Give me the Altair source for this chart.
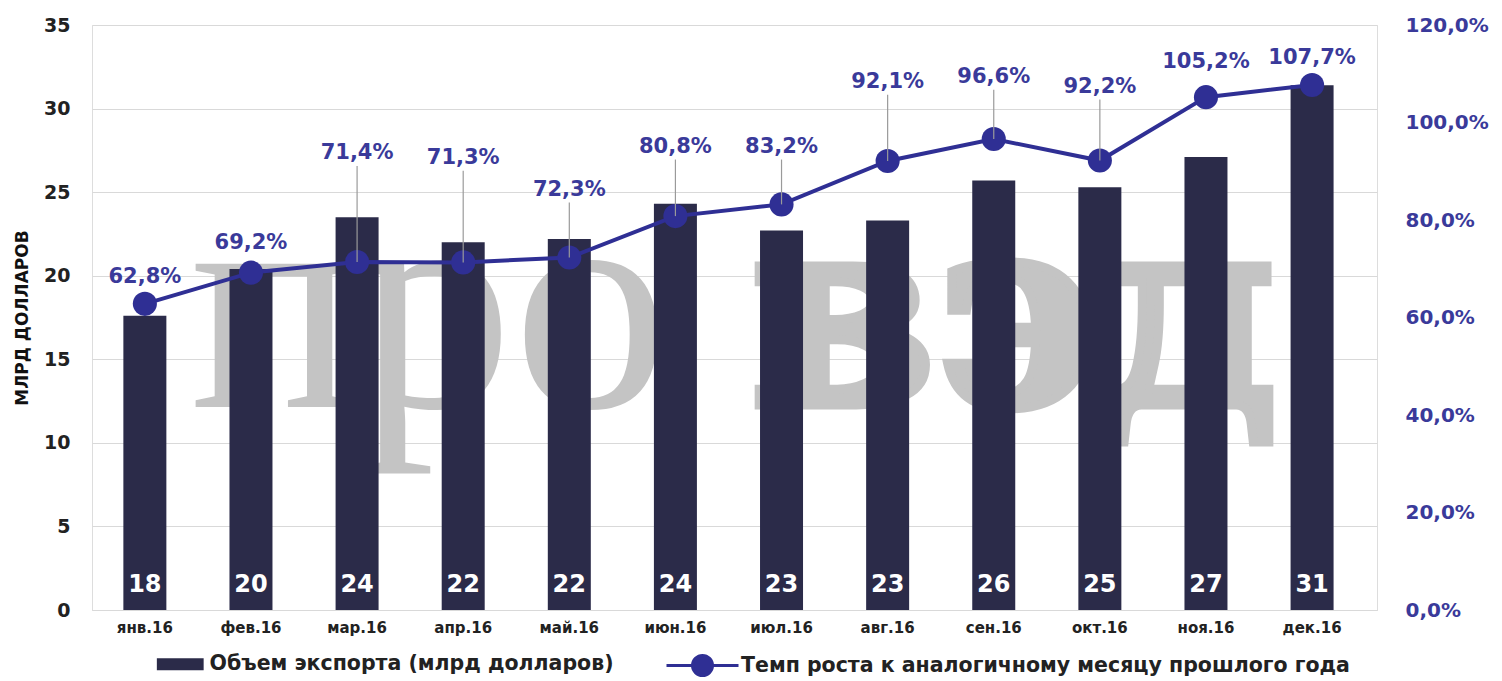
import altair as alt
import pandas as pd

months = ["янв.16", "фев.16", "мар.16", "апр.16", "май.16", "июн.16",
          "июл.16", "авг.16", "сен.16", "окт.16", "ноя.16", "дек.16"]
export_bn = [17.6, 20.4, 23.5, 22.0, 22.2, 24.3, 22.7, 23.3, 25.7, 25.3, 27.1, 31.4]
growth_pct = [62.8, 69.2, 71.4, 71.3, 72.3, 80.8, 83.2, 92.1, 96.6, 92.2, 105.2, 107.7]
label_at_pct = [68.3, 75.3, 93.7, 92.7, 86.2, 95.0, 95.0, 108.3, 109.3, 107.3, 112.4, 113.2]
has_leader = [False, False, True, True, True, True, True, True, True, True, False, False]

BAR_NAME = "Объем экспорта (млрд долларов)"
LINE_NAME = "Темп роста к аналогичному месяцу прошлого года"

df = pd.DataFrame({
    "month": months,
    "export": export_bn,
    "growth": growth_pct,
    "label_at": label_at_pct,
    "leader": has_leader,
    "bar_series": BAR_NAME,
    "line_series": LINE_NAME,
})

BAR_COLOR = "#2b2b49"
LINE_COLOR = "#2f2f94"
LABEL_BLUE = "#3a3a9a"
FONT = "DejaVu Sans"
WM_COLOR = "#c4c4c4"

x_scale = alt.Scale(paddingInner=0.6, paddingOuter=0.355, align=0.42)
x_enc = alt.X("month:N", sort=months, title=None, scale=x_scale,
              axis=alt.Axis(labelFontSize=15, labelFontWeight="bold", labelColor="#222",
                            labelFont=FONT, labelAngle=0, ticks=False, domain=True,
                            domainColor="#d9d9d9", labelPadding=10))

y_left = alt.Y("export:Q", title="МЛРД ДОЛЛАРОВ",
               scale=alt.Scale(domain=[0, 35]),
               axis=alt.Axis(values=list(range(0, 36, 5)), labelFontSize=19,
                             labelFontWeight="bold", labelColor="#222", labelFont=FONT,
                             ticks=False, domain=False, gridColor="#d9d9d9", labelPadding=22,
                             titleFontSize=17, titleFontWeight="bold", titleColor="#111",
                             titleFont=FONT, titlePadding=12))

base = alt.Chart(df)

one = base.transform_filter("datum.month == 'янв.16'")
watermark1 = one.mark_text(
    text="про", font="Liberation Serif", fontSize=312, color=WM_COLOR,
    align="left", baseline="alphabetic").encode(x=alt.value(98), y=alt.value(382))
watermark2 = one.mark_text(
    text="вэд", font="DejaVu Serif", fontWeight="bold", fontSize=268, color=WM_COLOR,
    stroke=WM_COLOR, strokeWidth=9, strokeJoin="miter",
    align="left", baseline="alphabetic").encode(x=alt.value(658), y=alt.value(380))

bars = base.mark_bar(size=43).encode(
    x=x_enc,
    y=y_left,
    color=alt.Color("bar_series:N", title=None,
                    scale=alt.Scale(domain=[BAR_NAME], range=[BAR_COLOR]),
                    legend=alt.Legend(orient="none", legendX=78, legendY=629,
                                      symbolType="M-3.9,-1H3.9V1H-3.9Z",
                                      symbolSize=144, labelOffset=19, labelFontSize=20.5,
                                      labelFontWeight="bold", labelColor="#222",
                                      labelFont=FONT, labelLimit=800, symbolOpacity=1)),
)

bar_text = base.transform_calculate(
    lbl="format(datum.export, '.0f')"
).mark_text(color="white", fontSize=24, fontWeight="bold", font=FONT, dy=-25,
            baseline="middle").encode(
    x=alt.X("month:N", sort=months, scale=x_scale),
    y=alt.datum(0),
    text="lbl:N",
)

left = alt.layer(watermark1, watermark2, bars, bar_text)

y_right_scale = alt.Scale(domain=[0, 120])
y_right = alt.Y("growth:Q", title=None, scale=y_right_scale,
                axis=alt.Axis(orient="right", values=list(range(0, 121, 20)),
                              labelExpr="replace(format(datum.value, '.1f'), '.', ',') + '%'",
                              labelFontSize=20, labelFontWeight="bold", labelColor=LABEL_BLUE,
                              labelFont=FONT, ticks=False, domain=False, grid=False,
                              labelPadding=28))

line = base.mark_line(strokeWidth=4).encode(
    x=alt.X("month:N", sort=months, scale=x_scale),
    y=y_right,
    stroke=alt.Stroke("line_series:N", title=None,
                      scale=alt.Scale(domain=[LINE_NAME], range=[LINE_COLOR]),
                      legend=alt.Legend(orient="none", legendX=599, legendY=629,
                                        symbolType="M-3.6,0H3.6M-1,0A1,1,0,1,1,1,0A1,1,0,1,1,-1,0Z",
                                        symbolSize=400, symbolStrokeWidth=3,
                                        symbolFillColor=LINE_COLOR, labelOffset=27,
                                        labelFontSize=20.5, labelFontWeight="bold",
                                        labelColor="#222", labelFont=FONT, labelLimit=900)),
)

points = base.mark_circle(size=580, color=LINE_COLOR, opacity=1).encode(
    x=alt.X("month:N", sort=months, scale=x_scale),
    y=alt.Y("growth:Q", scale=y_right_scale),
)

leaders = base.transform_filter("datum.leader").transform_calculate(
    top="datum.label_at - 2.6"
).mark_rule(color="#9a9a9a", strokeWidth=1.2).encode(
    x=alt.X("month:N", sort=months, scale=x_scale),
    y=alt.Y("growth:Q", scale=y_right_scale),
    y2="top:Q",
)

pct_text = base.transform_calculate(
    lbl="replace(format(datum.growth, '.1f'), '.', ',') + '%'"
).mark_text(color=LABEL_BLUE, fontSize=21, fontWeight="bold", font=FONT,
            baseline="middle").encode(
    x=alt.X("month:N", sort=months, scale=x_scale),
    y=alt.Y("label_at:Q", scale=y_right_scale),
    text="lbl:N",
)

right = alt.layer(line, points, leaders, pct_text)

chart = alt.layer(left, right).resolve_scale(y="independent").properties(
    width=1285, height=585,
    padding={"left": 5, "top": 7, "right": 0, "bottom": 0},
).configure_view(stroke=None).configure_legend(
    symbolStrokeColor=LINE_COLOR, padding=0
).configure(font=FONT)

chart.save("out.html", embed_options={"renderer": "svg", "actions": False})
